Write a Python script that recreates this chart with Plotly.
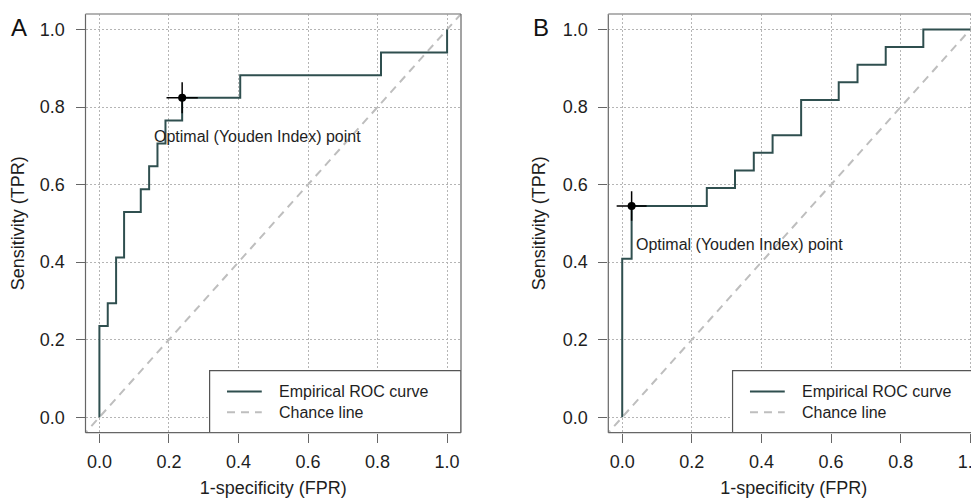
import plotly.graph_objects as go

# ---------------- data ----------------
fpr_a = [0, 0, 0.024, 0.048, 0.071, 0.119, 0.143, 0.167, 0.190, 0.238, 0.405, 0.810, 1.0]
tpr_a = [0, 0.235, 0.294, 0.412, 0.529, 0.588, 0.647, 0.706, 0.765, 0.824, 0.882, 0.941, 1.0]
opt_a = {"fpr": 0.238, "tpr": 0.824, "fpr_err": 0.045, "tpr_err": 0.040}

fpr_b = [0, 0, 0.027, 0.243, 0.324, 0.378, 0.432, 0.514, 0.622, 0.676, 0.757, 0.865, 1.0]
tpr_b = [0, 0.409, 0.545, 0.591, 0.636, 0.682, 0.727, 0.818, 0.864, 0.909, 0.955, 1.0, 1.0]
opt_b = {"fpr": 0.027, "tpr": 0.545, "fpr_err": 0.043, "tpr_err": 0.038}

chance = [-0.05, 1.05]
tick_vals = [0, 0.2, 0.4, 0.6, 0.8, 1.0]
tick_text = ["0.0", "0.2", "0.4", "0.6", "0.8", "1.0"]
panel_labels = ["A", "B"]
legend_names = ["Empirical ROC curve", "Chance line"]
opt_label = "Optimal (Youden Index) point"
x_title = "1-specificity (FPR)"
y_title = "Sensitivity (TPR)"

# ---------------- style ----------------
# the page body has an 8px default margin, so the figure is sized and
# laid out to fill the 979x498 window from that offset
OFF = 8
W, H = 979 - OFF, 498 - OFF
FONT = "Liberation Sans, Arial, Helvetica, sans-serif"
TXT = "#1e1e1e"
ROC_COL = "#2F4F4F"
CHANCE_COL = "#BEBEBE"
BOX_COL = "#666666"
GRID_COL = "#b5b5b5"


def px_x(v):
    return (v - OFF) / W


def px_y(v):
    return 1 - (v - OFF) / H


fig = go.Figure()

panels = [
    dict(fpr=fpr_a, tpr=tpr_a, opt=opt_a, xa="x", ya="y",
         opt_text=(0.150, 0.723)),
    dict(fpr=fpr_b, tpr=tpr_b, opt=opt_b, xa="x2", ya="y2",
         opt_text=(0.0336, 0.4445)),
]

for p in panels:
    fig.add_trace(go.Scatter(x=chance, y=chance, mode="lines", name=legend_names[1],
                             line=dict(color=CHANCE_COL, width=2, dash="8px,6px"),
                             xaxis=p["xa"], yaxis=p["ya"], showlegend=False,
                             hoverinfo="skip"))
    fig.add_trace(go.Scatter(x=p["fpr"], y=p["tpr"], mode="lines", name=legend_names[0],
                             line=dict(color=ROC_COL, width=2, shape="hv"),
                             xaxis=p["xa"], yaxis=p["ya"], showlegend=False))
    o = p["opt"]
    fig.add_trace(go.Scatter(x=[o["fpr"]], y=[o["tpr"]], mode="markers",
                             marker=dict(color="black", size=8),
                             error_x=dict(type="data", array=[o["fpr_err"]], color="black",
                                          thickness=1.5, width=0),
                             error_y=dict(type="data", array=[o["tpr_err"]], color="black",
                                          thickness=1.5, width=0),
                             xaxis=p["xa"], yaxis=p["ya"], showlegend=False,
                             name=opt_label))

# axes
ydom = [px_y(432.7), px_y(14)]
xdoms = [[px_x(85.5), px_x(461)], [px_x(608.3), 1.0]]
xranges = [[-0.04, 1.04], [-0.04, 1.025]]

common = dict(tickvals=tick_vals, ticktext=tick_text, ticks="outside", ticklen=9,
              tickwidth=1.2, tickcolor=BOX_COL, showline=False, zeroline=False,
              showgrid=True, gridcolor=GRID_COL, gridwidth=1, griddash="2px,2px",
              tickfont=dict(family=FONT, size=18, color=TXT), automargin=False)

for i, (xd, xr) in enumerate(zip(xdoms, xranges)):
    sx = "" if i == 0 else str(i + 1)
    fig.layout["xaxis" + sx] = dict(domain=xd, range=xr, anchor="y" + sx,
                                    title=dict(text=x_title, standoff=16,
                                               font=dict(family=FONT, size=18, color=TXT)),
                                    ticklabelstandoff=4, ticklabeloverflow="allow",
                                    **common)
    fig.layout["yaxis" + sx] = dict(domain=ydom, range=[-0.04, 1.04], anchor="x" + sx,
                                    title=dict(text=y_title, standoff=12,
                                               font=dict(family=FONT, size=18, color=TXT)),
                                    ticklabelstandoff=7, **common)

shapes = []
annotations = []
for i, p in enumerate(panels):
    xa, ya = p["xa"], p["ya"]
    # legend box
    shapes.append(dict(type="rect", xref=xa, yref=ya, x0=0.317, x1=1.04, y0=-0.04, y1=0.12,
                       fillcolor="white", line=dict(color="#555555", width=1.2), layer="above"))
    shapes.append(dict(type="line", xref=xa, yref=ya, x0=0.367, x1=0.467, y0=0.066, y1=0.066,
                       line=dict(color=ROC_COL, width=2), layer="above"))
    shapes.append(dict(type="line", xref=xa, yref=ya, x0=0.367, x1=0.467, y0=0.013, y1=0.013,
                       line=dict(color=CHANCE_COL, width=2, dash="8px,6px"), layer="above"))
    for name, yy in zip(legend_names, [0.066, 0.013]):
        annotations.append(dict(text=name, xref=xa, yref=ya, x=0.512, y=yy, xanchor="left",
                                yanchor="middle", showarrow=False,
                                font=dict(family=FONT, size=16, color=TXT)))
    # plot box
    dx = xa + " domain"
    dy = ya + " domain"
    shapes.append(dict(type="line", xref=dx, yref=dy, x0=0, x1=0, y0=0, y1=1,
                       line=dict(color=BOX_COL, width=1.2), layer="above"))
    shapes.append(dict(type="line", xref=dx, yref=dy, x0=0, x1=1, y0=0, y1=0,
                       line=dict(color=BOX_COL, width=1.2), layer="above"))
    shapes.append(dict(type="line", xref=dx, yref=dy, x0=0, x1=1, y0=1, y1=1,
                       line=dict(color="#9a9a9a", width=1.5), layer="above"))
    if i == 0:
        shapes.append(dict(type="line", xref=dx, yref=dy, x0=1, x1=1, y0=0, y1=1,
                           line=dict(color=BOX_COL, width=1.2), layer="above"))
    # optimal point label
    tx, ty = p["opt_text"]
    annotations.append(dict(text=opt_label, xref=xa, yref=ya, x=tx, y=ty, xanchor="left",
                            yanchor="middle", showarrow=False,
                            font=dict(family=FONT, size=16, color=TXT)))

for lab, px in zip(panel_labels, [19, 541]):
    annotations.append(dict(text=lab, xref="paper", yref="paper", x=px_x(px), y=px_y(27),
                            xanchor="center", yanchor="middle", showarrow=False,
                            font=dict(family=FONT, size=24, color="#111111")))

fig.update_layout(width=W, height=H, margin=dict(l=0, r=0, t=0, b=0),
                  paper_bgcolor="white", plot_bgcolor="white",
                  shapes=shapes, annotations=annotations, showlegend=False,
                  font=dict(family=FONT, color=TXT))

fig.write_html("out.html")
